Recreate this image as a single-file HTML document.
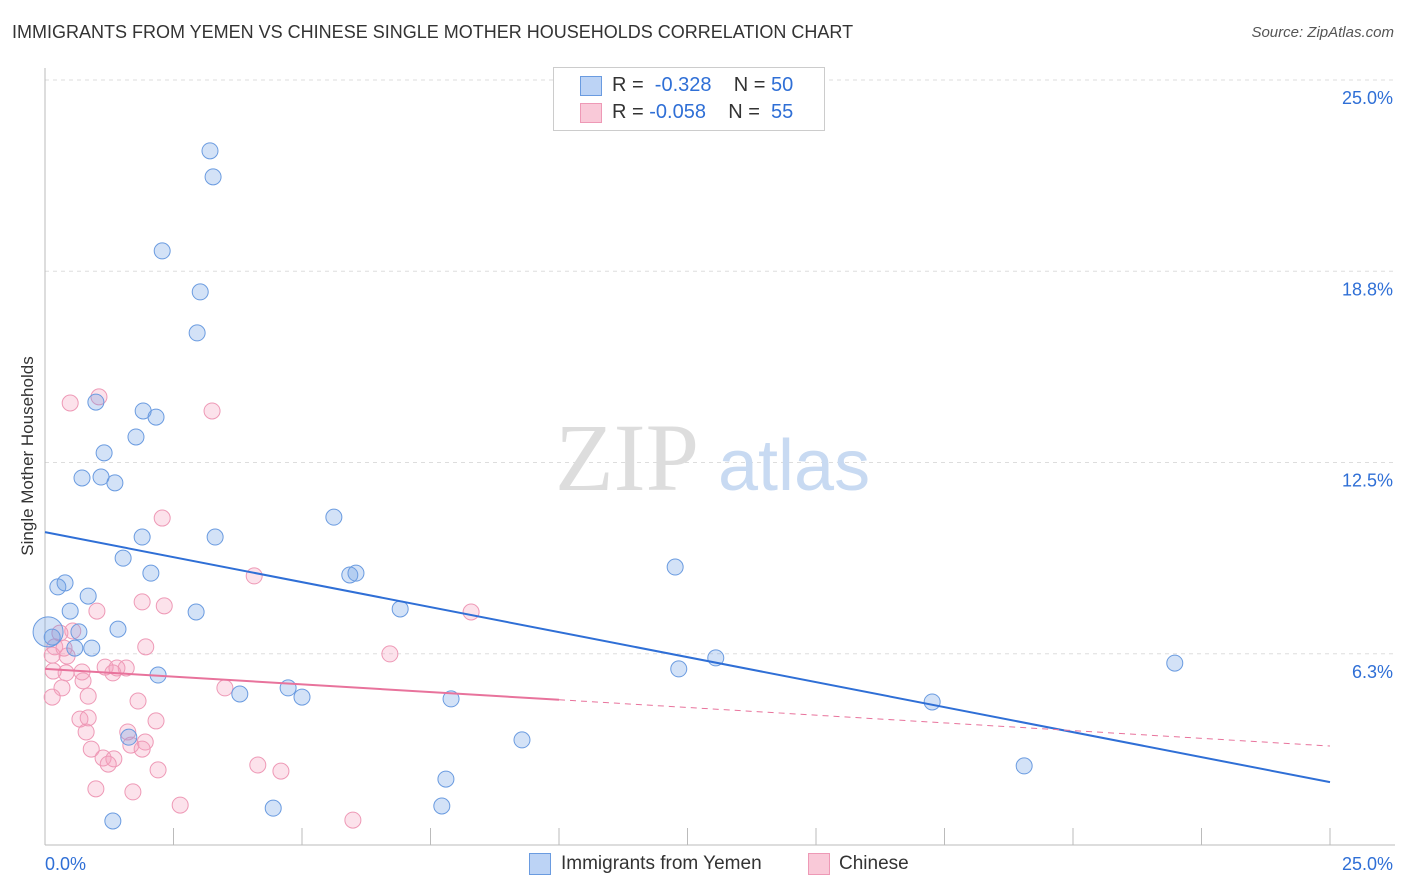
<!DOCTYPE html>
<html><head><meta charset="utf-8"><style>
body{margin:0;background:#fff;font-family:"Liberation Sans",sans-serif;}
#c{position:relative;width:1406px;height:892px;overflow:hidden}
.t{position:absolute;white-space:nowrap}
</style></head><body>
<div id="c">
<div class="t" style="left:12px;top:22px;font-size:18px;color:#333">IMMIGRANTS FROM YEMEN VS CHINESE SINGLE MOTHER HOUSEHOLDS CORRELATION CHART</div>
<div class="t" style="right:12px;top:24px;font-size:15px;color:#555;font-style:italic">Source: ZipAtlas.com</div>
<div class="t" style="left:28px;top:456px;font-size:17px;color:#333;transform:translate(-50%,-50%) rotate(-90deg)">Single Mother Households</div>
<svg id="s" width="1406" height="892" style="position:absolute;left:0;top:0"></svg>
<div style="position:absolute;left:553px;top:67px;width:270px;height:62px;border:1px solid #ccc;background:#fff;font-size:20px;color:#333">
 <div style="position:absolute;left:26px;top:8px;width:20px;height:18px;background:#bcd3f5;border:1px solid #6a9be0"></div>
 <div class="t" style="left:58px;top:6px">R = &nbsp;<span style="color:#2f6fd6">-0.328</span>&nbsp;&nbsp;&nbsp; N = <span style="color:#2f6fd6">50</span></div>
 <div style="position:absolute;left:26px;top:35px;width:20px;height:18px;background:#f9c9d8;border:1px solid #ee99b6"></div>
 <div class="t" style="left:58px;top:33px">R = <span style="color:#2f6fd6">-0.058</span>&nbsp;&nbsp;&nbsp; N = &nbsp;<span style="color:#2f6fd6">55</span></div>
</div>
<div style="position:absolute;left:529px;top:853px;width:20px;height:20px;background:#bcd3f5;border:1px solid #6a9be0"></div>
<div class="t" style="left:561px;top:853px;font-size:19px;color:#333">Immigrants from Yemen</div>
<div style="position:absolute;left:808px;top:853px;width:20px;height:20px;background:#f9c9d8;border:1px solid #ee99b6"></div>
<div class="t" style="left:839px;top:853px;font-size:19px;color:#333">Chinese</div>
</div>
<script>
const blueX=[3.21,3.27,2.28,3.02,2.96,0.99,1.91,2.16,1.77,1.15,0.72,1.09,1.36,5.62,1.89,3.31,1.52,2.06,0.25,0.39,0.84,0.49,2.94,5.93,6.05,6.91,12.26,0.14,0.66,1.42,0.58,0.91,2.20,4.73,3.79,5.00,7.90,13.05,12.33,21.98,17.26,9.28,19.05,1.63,7.80,7.72,4.44,1.32];
const blueY=[23.24,22.39,19.97,18.63,17.29,15.03,14.74,14.54,13.89,13.37,12.55,12.58,12.39,11.27,10.62,10.62,9.93,9.44,8.99,9.12,8.69,8.20,8.17,9.38,9.44,8.27,9.64,7.35,7.52,7.61,6.99,6.99,6.11,5.69,5.49,5.39,5.33,6.67,6.31,6.50,5.23,3.99,3.14,4.08,2.71,1.83,1.76,1.34];
const pinkX=[1.05,0.49,3.25,2.28,4.07,1.89,2.32,1.01,8.29,1.96,6.71,0.54,0.29,0.19,0.43,0.14,0.37,0.41,0.72,1.17,1.40,1.58,1.32,0.16,0.74,0.33,0.84,0.14,3.50,1.81,0.68,0.84,2.16,0.80,1.61,1.67,1.95,0.90,1.13,1.34,1.23,1.89,2.20,4.14,4.59,0.99,1.71,2.63,5.99];
const pinkY=[15.20,15.0,14.74,11.24,9.35,8.50,8.37,8.20,8.17,7.03,6.80,7.55,7.48,7.03,6.73,6.76,6.99,6.18,6.21,6.37,6.34,6.34,6.18,6.24,5.92,5.69,5.42,5.39,5.69,5.26,4.67,4.71,4.61,4.25,4.25,3.82,3.92,3.69,3.40,3.37,3.20,3.69,3.01,3.17,2.97,2.39,2.29,1.86,1.37];
const bigX=[0.06], bigY=[7.52];
const yTicks=[25.0,18.8,12.5,6.3];
const yTickVals=[25,18.75,12.5,6.25];
const blueTrend=[10.78,2.61];
const pinkTrend=[6.31,3.79];
const NS='http://www.w3.org/2000/svg', s=document.getElementById('s');
const X=v=>45+v/25*1285, Y=v=>862-v*30.6;
function el(t,a){const e=document.createElementNS(NS,t);for(const k in a)e.setAttribute(k,a[k]);s.appendChild(e);return e;}
yTickVals.forEach((v,i)=>{
 const g=el('line',{x1:45,x2:1395,y1:Y(v)-17,y2:Y(v)-17,stroke:'#ddd','stroke-dasharray':'4,4'});
 
 
 const t=el('text',{x:1393,y:Y(v)+7,'text-anchor':'end','font-size':18,fill:'#2f6fd6'});t.textContent=yTicks[i].toFixed(1)+'%';
 
 
});
let a=el('line',{x1:45,x2:45,y1:68,y2:845,stroke:'#bbb'});


a=el('line',{x1:45,x2:1395,y1:845,y2:845,stroke:'#bbb'});


for(let i=0;i<=10;i++){const l=el('line',{x1:X(i*2.5),x2:X(i*2.5),y1:828,y2:845,stroke:'#bbb'});
 
 }
let t=el('text',{x:45,y:870,'font-size':18,fill:'#2f6fd6'});t.textContent='0.0%';


t=el('text',{x:1393,y:870,'text-anchor':'end','font-size':18,fill:'#2f6fd6'});t.textContent='25.0%';


t=el('text',{x:555,y:490,'font-size':96,fill:'#ddd','font-family':'Liberation Serif'});t.textContent='ZIP';


t=el('text',{x:718,y:490,'font-size':72,fill:'#c8daf2'});t.textContent='atlas';


function dots(xs,ys,fill,stroke,r,name){xs.forEach((x,i)=>{const c=el('circle',{cx:X(x),cy:Y(ys[i]),r:r,fill:fill,stroke:stroke,'stroke-width':1});
 
 });}
dots(pinkX,pinkY,'rgba(244,160,190,0.3)','#ee99b6',8,'chinese-point');
dots(blueX,blueY,'rgba(110,160,230,0.3)','#6a9be0',8,'yemen-point');
dots(bigX,bigY,'rgba(110,160,230,0.3)','#6a9be0',15,'yemen-point-large');
let l=el('line',{x1:X(0),y1:Y(blueTrend[0]),x2:X(25),y2:Y(blueTrend[1]),stroke:'#2f6fd6','stroke-width':2});


const pm=v=>pinkTrend[0]+(pinkTrend[1]-pinkTrend[0])*v/25;
l=el('line',{x1:X(0),y1:Y(pm(0)),x2:X(10),y2:Y(pm(10)),stroke:'#e8739c','stroke-width':2});


l=el('line',{x1:X(10),y1:Y(pm(10)),x2:X(25),y2:Y(pm(25)),stroke:'#e8739c','stroke-width':1,'stroke-dasharray':'6,5'});


</script>
</body></html>
